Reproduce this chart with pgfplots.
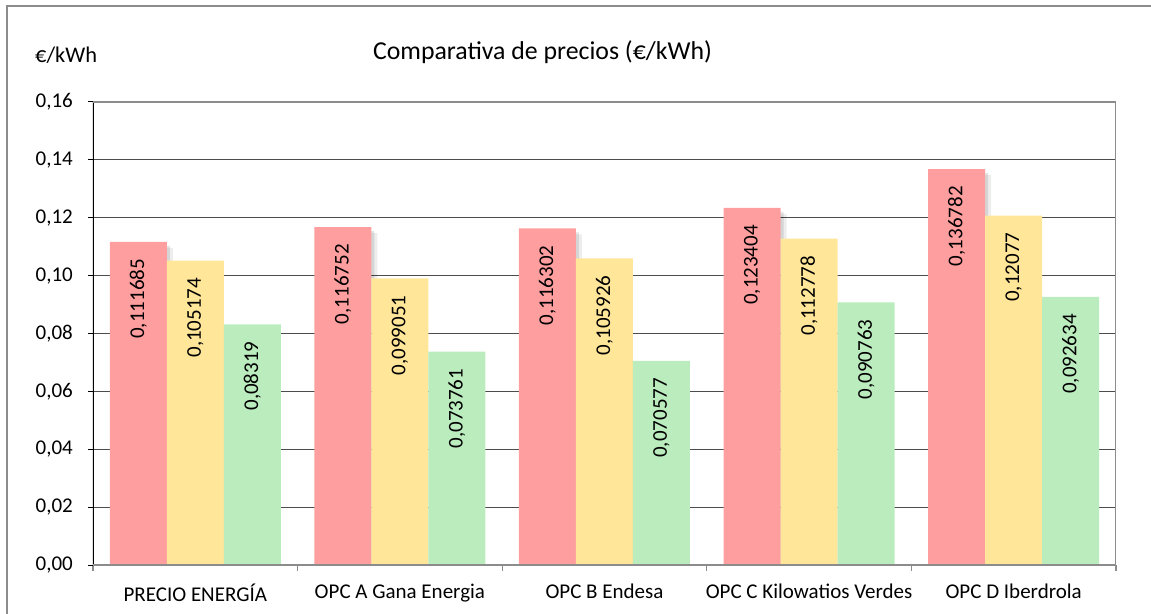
\documentclass[border=0pt]{standalone}
\usepackage{pgfplots}
\pgfplotsset{compat=1.18}
\usepackage{pgfplotstable}
\usepackage{fontspec}
\setmainfont{Carlito}
\definecolor{cRed}{RGB}{255,158,158}
\definecolor{cYel}{RGB}{255,230,153}
\definecolor{cGrn}{RGB}{187,236,190}
\definecolor{frameGray}{RGB}{140,140,140}

\pgfplotstableread{
x r rl y yl g gl
0 0.111685 0,111685 0.105174 0,105174 0.08319 0,08319
1 0.116752 0,116752 0.099051 0,099051 0.073761 0,073761
2 0.116302 0,116302 0.105926 0,105926 0.070577 0,070577
3 0.123404 0,123404 0.112778 0,112778 0.090763 0,090763
4 0.136782 0,136782 0.12077 0,12077 0.092634 0,092634
}\data

\begin{document}
\begin{tikzpicture}[font=\fontsize{21bp}{25bp}\selectfont]
\path[use as bounding box] (-93bp,-49bp) rectangle (1058bp,565bp);
\draw[frameGray, line width=1.5bp] (-86bp,-60bp) -- (-86bp,559bp) -- (1070bp,559bp);
\node at (449.5bp,513bp) {\fontsize{25.8bp}{30bp}\selectfont Comparativa de precios (€/kWh)};
\node[anchor=west, inner sep=0pt] at (-58bp,510bp) {\fontsize{22.4bp}{27bp}\selectfont €/kWh};
\begin{axis}[
  at={(0,0)}, anchor=south west,
  scale only axis, width=1023bp, height=463bp,
  xmin=-0.5, xmax=4.5, ymin=0, ymax=0.16,
  ybar, bar width=57bp,
  axis line style={draw=none},
  tick pos=left,
  ytick={0,0.02,0.04,0.06,0.08,0.1,0.12,0.14,0.16},
  yticklabel style={inner sep=0pt, xshift=-15bp,
    /pgf/number format/fixed, /pgf/number format/fixed zerofill,
    /pgf/number format/precision=2, /pgf/number format/use comma,
    /pgf/number format/assume math mode=true},
  xtick={0,1,2,3,4},
  xticklabels={PRECIO ENERGÍA, OPC A Gana Energia, OPC B Endesa, OPC C Kilowatios Verdes, OPC D Iberdrola},
  xticklabel style={inner sep=0pt, yshift=-14bp},
  minor xtick={-0.5,0.5,1.5,2.5,3.5,4.5},
  tick align=outside,
  major tick length=5bp, minor tick length=6bp,
  major x tick style={draw=none},
  minor x tick style={draw=frameGray, line width=1.2bp},
  ytick style={black, line width=1bp},
  ymajorgrids, grid style={black!70, line width=0.9bp},
  point meta=explicit symbolic,
  nodes near coords,
  every node near coord/.append style={rotate=90, anchor=east, inner sep=0pt, xshift=-17bp, text=black},
  every axis plot/.append style={draw=none},
]
\addplot[fill=cRed, bar shift=-57bp,
  preaction={fill=black, opacity=0.07, transform canvas={shift={(6bp,-6bp)}}},
  preaction={fill=black, opacity=0.10, transform canvas={shift={(3bp,-4bp)}}}]
  table[x=x, y=r, meta=rl] {\data};
\addplot[fill=cYel, bar shift=0bp] table[x=x, y=y, meta=yl] {\data};
\addplot[fill=cGrn, bar shift=57bp] table[x=x, y=g, meta=gl] {\data};
\draw[black, line width=1.2bp] (rel axis cs:0,0) -- (rel axis cs:0,1);
\draw[frameGray, line width=1.5bp] (rel axis cs:0,0) -- (rel axis cs:1,0);
\draw[frameGray, line width=2bp] (rel axis cs:1,0) -- (rel axis cs:1,1);
\draw[frameGray, line width=1.5bp] (rel axis cs:0,1) -- (rel axis cs:1,1);
\end{axis}
\end{tikzpicture}
\end{document}
